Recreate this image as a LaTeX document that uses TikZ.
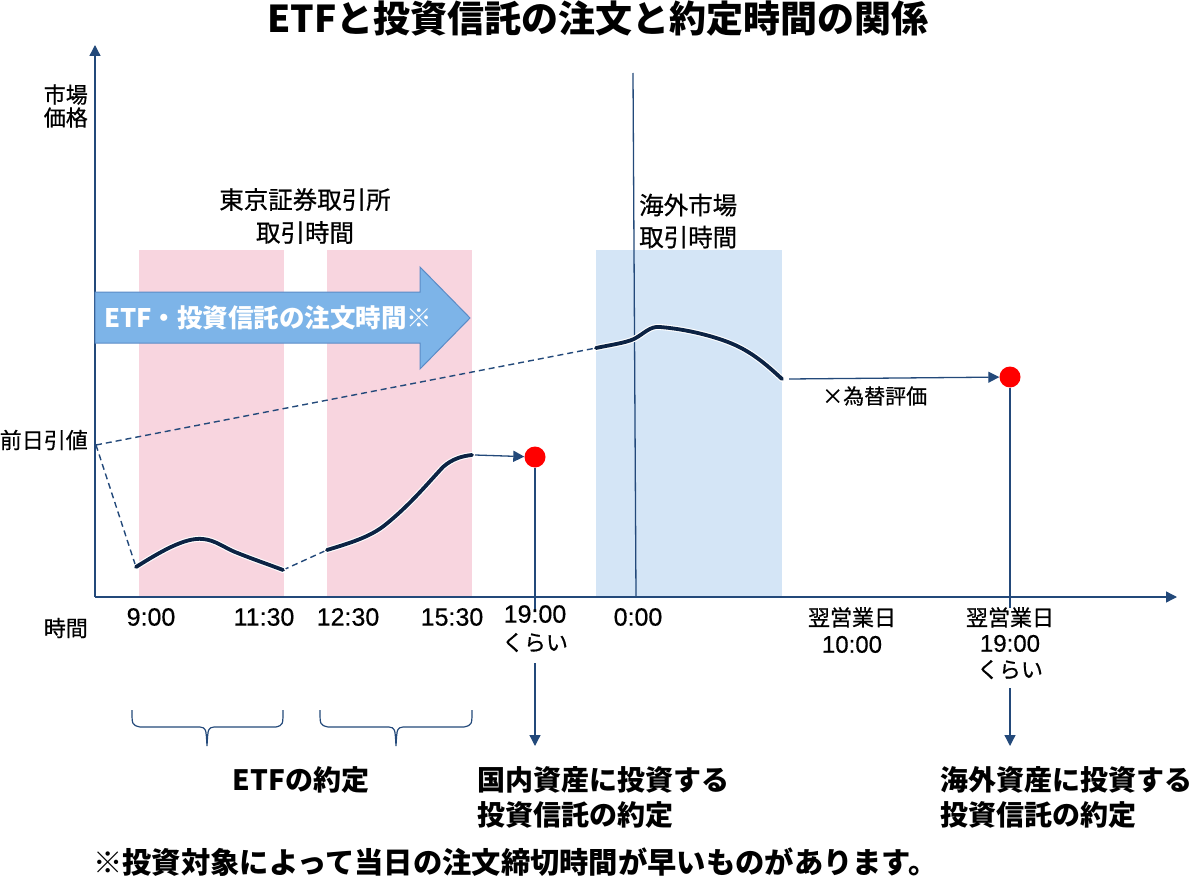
\documentclass[tikz,border=0pt]{standalone}
\usepackage{fontspec}
\setmainfont{Noto Sans CJK JP}
\newfontfamily\medfont[FakeBold=0.6]{Noto Sans CJK JP}
\newfontfamily\digfont[FakeBold=0.5]{Liberation Sans}
\usetikzlibrary{arrows.meta}
\definecolor{axisblue}{HTML}{23497A}
\definecolor{navy}{HTML}{0C2344}
\definecolor{pinkbg}{HTML}{F8D5DF}
\definecolor{bluebg}{HTML}{D4E5F6}
\definecolor{arrowfill}{HTML}{7DB4E8}
\definecolor{arrowedge}{HTML}{5A8BC6}
\definecolor{dotred}{HTML}{FF0000}
\tikzset{
  axisline/.style={draw=axisblue, line width=1.3pt},
  conn/.style={draw=axisblue, line width=1.3pt, -{Triangle[width=11pt,length=11pt]}},
  dashline/.style={draw=axisblue, line width=1.4pt, dash pattern=on 6pt off 4pt},
  price/.style={draw=navy, line width=3.8pt, line cap=round, line join=round,
    preaction={draw=white, line width=6pt, line cap=round}},
  dot/.style={circle, fill=dotred, inner sep=0pt, minimum size=21pt},
  lbl/.style={font=\medfont\fontsize{22}{27}\selectfont, text=black, inner sep=0pt},
  tick/.style={font=\digfont\fontsize{25}{28}\selectfont, text=black, inner sep=0pt, align=center},
  big/.style={font=\bfseries\fontsize{28}{35}\selectfont, text=black, inner sep=0pt, align=left},
}
\begin{document}
\begin{tikzpicture}[x=1pt,y=-1pt]
\useasboundingbox (0,0) rectangle (1200,888);
% background bands
\fill[pinkbg] (139,250) rectangle (284,597);
\fill[pinkbg] (327,250) rectangle (472,597);
\fill[bluebg] (596,250) rectangle (782,597);
% title
\node[font=\bfseries\fontsize{37}{42}\selectfont, inner sep=0pt] (title) at (598,19) {ETFと投資信託の注文と約定時間の関係};
% axes
\coordinate (O) at (95,597);
\coordinate (ytop) at (95,45);
\coordinate (xend) at (1177,597);
\draw[conn] (O) -- (ytop);
\draw[conn] (O) -- (xend);
% midnight line
\coordinate (mtop) at (633,73);
\coordinate (mbot) at (636,597);
\draw[draw=axisblue, line width=1.3pt] (mtop) -- (mbot);
% big order arrow
\draw[fill=arrowfill, draw=arrowedge, line width=1pt] (95,292) -- (420,292) -- (420,267) -- (470,318) -- (420,369) -- (420,343) -- (95,343) -- cycle;
\node[anchor=west, text=white, font=\bfseries\fontsize{25.5}{30}\selectfont, inner sep=0pt] (ordertext) at (104,318) {ETF・投資信託の注文時間※};
% y labels
\node[lbl, anchor=east, align=right, font=\medfont\fontsize{22}{23}\selectfont] (price) at (88,106) {市場\\価格};
\node[lbl, anchor=east] (prevclose) at (88,440) {前日引値};
\node[lbl, anchor=east] (timelbl) at (88,628) {時間};
% market labels
\node[lbl, align=center, font=\medfont\fontsize{24.5}{33}\selectfont] (tse) at (305,216) {東京証券取引所\\取引時間};
\node[lbl, align=left, anchor=west, font=\medfont\fontsize{24.5}{32}\selectfont] (foreign) at (639,221) {海外市場\\取引時間};
% price points
\coordinate (prev) at (96,445);
\coordinate (a0) at (136,567);
\coordinate (a1) at (283,570);
\coordinate (b0) at (327,550);
\coordinate (b1) at (472,455);
\coordinate (c0) at (596,348);
\coordinate (c1) at (782,379);
% dashed lines
\draw[dashline] (prev) -- (a0);
\draw[dashline] (prev) -- (c0);
\draw[dashline] (a1) -- (b0);
% price curves
\draw[price] (a0) .. controls (160,552) and (185,537) .. (203,539)
  .. controls (215,540) and (225,548) .. (235,552)
  .. controls (255,560) and (270,565) .. (a1);
\draw[price] (b0) .. controls (350,543) and (370,537) .. (385,525)
  .. controls (410,505) and (428,483) .. (443,467)
  .. controls (452,459) and (462,456) .. (b1);
\draw[price] (c0) .. controls (610,345) and (625,343) .. (634,339)
  .. controls (645,333) and (650,326) .. (660,327)
  .. controls (685,329) and (715,336) .. (735,345)
  .. controls (755,354) and (770,368) .. (c1);
% settlement dots
\node[dot] (d1) at (535,457) {};
\node[dot] (d2) at (1010,377) {};
\coordinate (b1s) at (475,455);
\coordinate (c1s) at (789,379);
\draw[conn] (b1s) -- (d1);
\draw[conn] (c1s) -- (d2);
\node[lbl, anchor=west, font=\medfont\fontsize{21}{25}\selectfont] (fx) at (822,396) {×為替評価};
\coordinate (d1b) at (535,611);
\coordinate (d2b) at (1010,608);
\draw[axisline] (d1) -- (d1b);
\draw[axisline] (d2) -- (d2b);
% tick labels
\node[tick] (t900) at (151,617) {9:00};
\node[tick] (t1130) at (264,617) {11:30};
\node[tick] (t1230) at (348,617) {12:30};
\node[tick] (t1530) at (452,617) {15:30};
\node[tick, anchor=north] (t1900) at (535,605) {19:00\\{\medfont\fontsize{22}{28}\selectfont くらい}};
\node[tick] (t000) at (638,617) {0:00};
\node[tick, anchor=north, font=\digfont\fontsize{24}{27}\selectfont] (t1000) at (852,607) {{\medfont\fontsize{22}{27}\selectfont 翌営業日}\\10:00};
\node[tick, anchor=north, font=\digfont\fontsize{24}{26}\selectfont] (t1900n) at (1010,607) {{\medfont\fontsize{22}{26}\selectfont 翌営業日}\\19:00\\{\medfont\fontsize{22}{26}\selectfont くらい}};
% down arrows
\coordinate (s1) at (535,663);
\coordinate (e1) at (535,746);
\coordinate (s2) at (1010,688);
\coordinate (e2) at (1010,746);
\draw[conn] (s1) -- (e1);
\draw[conn] (s2) -- (e2);
% braces
\draw[axisline, line width=1.2pt] (132,710) .. controls (132,725) .. (140,727) -- (200,727)
  .. controls (206,728) .. (207,746) .. controls (208,728) .. (214,727) -- (276,727)
  .. controls (283,725) .. (283,710);
\draw[axisline, line width=1.2pt] (320,710) .. controls (320,725) .. (328,727) -- (389,727)
  .. controls (395,728) .. (396,746) .. controls (397,728) .. (403,727) -- (464,727)
  .. controls (472,725) .. (472,710);
% bottom labels
\node[big] (etfset) at (301,780) {ETFの約定};
\node[big, anchor=west] (domset) at (477,797) {国内資産に投資する\\投資信託の約定};
\node[big, anchor=west] (forset) at (940,797) {海外資産に投資する\\投資信託の約定};
\node[anchor=west, inner sep=0pt, font=\bfseries\fontsize{29.3}{34}\selectfont] (note) at (93,862) {※投資対象によって当日の注文締切時間が早いものがあります。};
\end{tikzpicture}
\end{document}
